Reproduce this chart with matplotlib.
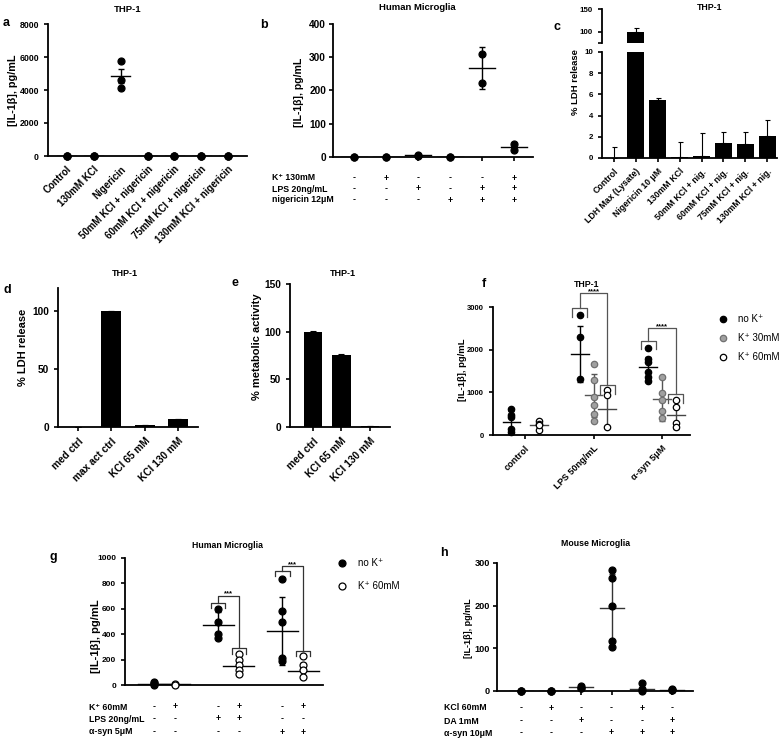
import numpy as np
import matplotlib
matplotlib.use('Agg')
import matplotlib.pyplot as plt
from matplotlib.transforms import blended_transform_factory

plt.rcParams['font.family'] = ['Liberation Sans', 'DejaVu Sans']
plt.rcParams['font.weight'] = 'bold'
plt.rcParams['axes.linewidth'] = 1.3
plt.rcParams['xtick.major.width'] = 1.2
plt.rcParams['ytick.major.width'] = 1.2
plt.rcParams['xtick.major.size'] = 3
plt.rcParams['ytick.major.size'] = 3

# ---- data ----
# a: THP-1 IL-1b
a_labels = ['Control', '130mM KCl', 'Nigericin', '50mM KCl + nigericin',
            '60mM KCl + nigericin', '75mM KCl + nigericin', '130mM KCl + nigericin']
a_points = [[0, 0, 0], [0, 0, 0], [5750, 4600, 4150], [0, 0, 0], [0, 0, 0], [0, 0, 0], [0, 0, 0]]
a_mean = [0, 0, 4840, 0, 0, 0, 0]
a_err = [0, 0, 420, 0, 0, 0, 0]

# b: human microglia IL-1b
b_points = [[0, 0], [0, 0], [6, 4], [0, 0], [311, 224], [40, 22]]
b_mean = [0, 0, 5, 0, 268, 29]
b_err = [0, 0, 1, 0, 62, 0]
b_rows = ['K\u207a 130mM', 'LPS 20ng/mL', 'nigericin 12\u03bcM']
b_signs = [['-', '+', '-', '-', '-', '+'],
           ['-', '-', '+', '-', '+', '+'],
           ['-', '-', '-', '+', '+', '+']]

# c: THP-1 LDH release
c_labels = ['Control', 'LDH Max (Lysate)', 'Nigericin 10 \u03bcM', '130mM KCl',
            '50mM KCl + nig.', '60mM KCl + nig.', '75mM KCl + nig.', '130mM KCl + nig.']
c_vals = [0, 100, 5.5, 0.1, 0.2, 1.45, 1.3, 2.1]
c_err = [1.0, 7, 0.2, 1.45, 2.2, 1.05, 1.15, 1.5]

# d: THP-1 LDH
d_labels = ['med ctrl', 'max act ctrl', 'KCl 65 mM', 'KCl 130 mM']
d_vals = [0, 100, 1.5, 6.5]
d_err = [0, 0.5, 0.3, 0.8]

# e: THP-1 metabolic activity
e_labels = ['med ctrl', 'KCl 65 mM', 'KCl 130 mM']
e_vals = [100, 75.5, 1]
e_err = [1.0, 1.5, 0.3]

# f: THP-1 IL-1b with K+
f_groups = ['control', 'LPS 50ng/mL', '\u03b1-syn 5\u03bcM']
f_series = ['no K\u207a', 'K\u207a 30mM', 'K\u207a 60mM']
f_points = {
    'no K\u207a': [[620, 470, 430, 150, 70], [2810, 2305, 1305], [2047, 1773, 1719, 1484, 1367, 1273]],
    'K\u207a 30mM': [[], [1664, 1289, 898, 703, 492, 328], [1352, 977, 820, 570, 391]],
    'K\u207a 60mM': [[330, 250, 120, 230], [1055, 937, 195], [820, 664, 289, 180]],
}
f_mean = {
    'no K\u207a': [300, 1898, 1586],
    'K\u207a 30mM': [None, 929, 836],
    'K\u207a 60mM': [235, 602, 469],
}
f_err = {
    'no K\u207a': [260, 650, 250],
    'K\u207a 30mM': [None, 500, 500],
    'K\u207a 60mM': [90, 440, 340],
}

# g: human microglia IL-1b with K+
g_points = [[20, 12, 5, 0], [8, 3], [596, 498, 399, 367], [244, 197, 157, 118, 87],
            [838, 584, 500, 210, 189], [228, 157, 118, 60]]
g_mean = [10, 6, 472, 152, 425, 113]
g_err = [5, 2, 105, 60, 265, 60]
g_filled = [True, False, True, False, True, False]
g_rows = ['K\u207a 60mM', 'LPS 20ng/mL', '\u03b1-syn 5\u03bcM']
g_signs = [['-', '+', '-', '+', '-', '+'],
           ['-', '-', '+', '+', '-', '-'],
           ['-', '-', '-', '-', '+', '+']]

# h: mouse microglia IL-1b
h_points = [[0, 0, 0], [0, 0, 0], [12, 8, 6], [284, 266, 200, 118, 104], [18, 4, 0], [5, 3, 2]]
h_mean = [0, 0, 9, 195, 5, 3]
h_err = [0, 0, 0, 80, 0, 0]
h_rows = ['KCl 60mM', 'DA 1mM', '\u03b1-syn 10\u03bcM']
h_signs = [['-', '+', '-', '-', '+', '-'],
           ['-', '-', '+', '-', '-', '+'],
           ['-', '-', '-', '+', '+', '+']]

# ---- layout ----
W, H = 784, 740
fig = plt.figure(figsize=(W / 100, H / 100), dpi=100)


def rect(l, r, t, b):
    return [l / W, 1 - b / H, (r - l) / W, (b - t) / H]


def style(ax, fs, xfs=None):
    ax.spines['top'].set_visible(False)
    ax.spines['right'].set_visible(False)
    ax.tick_params(axis='y', labelsize=fs)
    ax.tick_params(axis='x', labelsize=xfs or fs)
    for t in ax.get_yticklabels() + ax.get_xticklabels():
        t.set_fontweight('bold')


def ftext(x, y, s, fs, weight='bold', **kw):
    fig.text(x / W, 1 - y / H, s, fontsize=fs, fontweight=weight, **kw)


def scatter_group(ax, x, pts, mean, err, w, face='k', edge='k', ms=5, lc='k'):
    if mean is not None:
        ax.plot([x - w, x + w], [mean, mean], color=lc, lw=1.0, zorder=2)
        if err:
            ax.errorbar([x], [mean], yerr=[err], fmt='none', ecolor=lc, elinewidth=1.0,
                        capsize=2.5, capthick=1.0, zorder=2)
    if len(pts):
        ax.plot([x] * len(pts), pts, 'o', ms=ms, mfc=face, mec=edge, mew=0.9,
                zorder=3, clip_on=False)


def sign_rows(ax, xs, rows, signs, label_x, ys, fs):
    tr = blended_transform_factory(ax.transData, fig.transFigure)
    for row, sg, y in zip(rows, signs, ys):
        ftext(label_x, y, row, fs, va='center', ha='left')
        for x, s in zip(xs, sg):
            ax.text(x, 1 - y / H, s, transform=tr, fontsize=fs, fontweight='bold',
                    ha='center', va='center')


def bracket(ax, x1, x2, yl, yr, ytop, hw, drop, star, fs, color):
    kw = dict(color=color, lw=0.9, clip_on=False)
    ax.plot([x1 - hw, x1 - hw, x1 + hw, x1 + hw], [yl - drop, yl, yl, yl - drop], **kw)
    ax.plot([x2 - hw, x2 - hw, x2 + hw, x2 + hw], [yr - drop, yr, yr, yr - drop], **kw)
    ax.plot([x1, x1, x2, x2], [yl, ytop, ytop, yr], **kw)
    ax.text((x1 + x2) / 2, ytop, star, ha='center', va='baseline', fontsize=fs,
            fontweight='bold', clip_on=False)


def legend_dot(x, y, face, edge, ms):
    fig.lines.append(plt.Line2D([x / W], [1 - y / H], marker='o', ms=ms, mfc=face,
                                mec=edge, mew=0.9, transform=fig.transFigure))


# ---- a ----
ax = fig.add_axes(rect(48, 247, 24, 156))
xa = np.arange(len(a_labels))
for i in xa:
    scatter_group(ax, i, a_points[i], a_mean[i], a_err[i], 0.35)
ax.set_xlim(-0.7, 6.7)
ax.set_ylim(0, 8000)
ax.set_yticks([0, 2000, 4000, 6000, 8000])
ax.set_xticks(xa)
ax.set_xticklabels(a_labels, rotation=45, ha='right', rotation_mode='anchor')
ax.tick_params(axis='x', length=0, pad=6)
style(ax, 6.3, 7)
ftext(128, 10, 'THP-1', 6.8, ha='center', va='center')
ftext(13, 90, '[IL-1\u03b2], pg/mL', 7.8, rotation=90, ha='center', va='center')
ftext(3, 23, 'a', 9, va='center')

# ---- b ----
ax = fig.add_axes(rect(333, 533, 24, 157))
xb = np.arange(len(b_points))
for i in xb:
    scatter_group(ax, i, b_points[i], b_mean[i], b_err[i], 0.4)
ax.set_xlim(-0.66, 5.6)
ax.set_ylim(0, 400)
ax.set_yticks([0, 100, 200, 300, 400])
ax.set_xticks(xb)
ax.set_xticklabels([])
ax.tick_params(axis='y', pad=2)
style(ax, 7.3)
sign_rows(ax, xb, b_rows, b_signs, 272, [178, 189, 200], 6.3)
ftext(417, 8, 'Human Microglia', 6.8, ha='center', va='center')
ftext(299, 92, '[IL-1\u03b2], pg/mL', 7.6, rotation=90, ha='center', va='center')
ftext(260, 25, 'b', 9, va='center')

# ---- c (broken axis) ----
xc = np.arange(len(c_labels))
axu = fig.add_axes(rect(602, 777, 9, 43))
axl = fig.add_axes(rect(602, 777, 52, 158))
for axx in (axu, axl):
    axx.bar(xc, c_vals, width=0.78, color='k')
    axx.errorbar(xc, c_vals, yerr=[np.zeros(len(c_err)), c_err], fmt='none', ecolor='k',
                 elinewidth=0.8, capsize=1.8, capthick=0.8)
    axx.set_xlim(-0.55, 7.45)
axu.set_ylim(75, 150)
axu.set_yticks([75, 100, 150])
axu.set_yticklabels(['', '100', '150'])
axu.spines['bottom'].set_visible(False)
axu.set_xticks([])
style(axu, 5.7)
axl.set_ylim(0, 10)
axl.set_yticks([0, 2, 4, 6, 8, 10])
axl.set_xticks(xc)
axl.set_xticklabels(c_labels, rotation=45, ha='right', rotation_mode='anchor')
style(axl, 5.7, 6.3)
ftext(710, 8, 'THP-1', 6.3, ha='center', va='center')
ftext(575, 82, '% LDH release', 6.8, rotation=90, ha='center', va='center')
ftext(553, 27, 'c', 9, va='center')

# ---- d ----
ax = fig.add_axes(rect(58, 198, 288, 427))
xd = np.arange(len(d_labels))
ax.bar(xd, d_vals, width=0.6, color='k')
ax.errorbar(xd, d_vals, yerr=[np.zeros(len(d_err)), d_err], fmt='none', ecolor='k',
            elinewidth=0.8, capsize=2.5, capthick=0.8)
ax.set_xlim(-0.6, 3.6)
ax.set_ylim(0, 120)
ax.set_yticks([0, 50, 100])
ax.set_xticks(xd)
ax.set_xticklabels(d_labels, rotation=45, ha='right', rotation_mode='anchor')
style(ax, 7.3)
ftext(125, 274, 'THP-1', 6.5, ha='center', va='center')
ftext(23, 347, '% LDH release', 8, rotation=90, ha='center', va='center')
ftext(4, 290, 'd', 9, va='center')

# ---- e ----
ax = fig.add_axes(rect(290, 390, 284, 427))
xe = np.arange(len(e_labels))
ax.bar(xe, e_vals, width=0.65, color='k')
ax.errorbar(xe, e_vals, yerr=[np.zeros(len(e_err)), e_err], fmt='none', ecolor='k',
            elinewidth=0.8, capsize=2.5, capthick=0.8)
ax.set_xlim(-0.8, 2.7)
ax.set_ylim(0, 150)
ax.set_yticks([0, 50, 100, 150])
ax.set_xticks(xe)
ax.set_xticklabels(e_labels, rotation=45, ha='right', rotation_mode='anchor')
style(ax, 7.3)
ftext(343, 274, 'THP-1', 6.5, ha='center', va='center')
ftext(257, 347, '% metabolic activity', 8, rotation=90, ha='center', va='center')
ftext(232, 283, 'e', 9, va='center')

# ---- f ----
ax = fig.add_axes(rect(493, 690, 307, 435))
xf = np.arange(len(f_groups))
f_off = [-0.2, 0.0, 0.2]
f_face = ['k', '#a0a0a0', 'white']
f_edge = ['k', '#707070', 'k']
f_lc = ['k', '#555555', '#444444']
for s, name in enumerate(f_series):
    for gi in xf:
        scatter_group(ax, gi + f_off[s], f_points[name][gi], f_mean[name][gi],
                      f_err[name][gi], 0.13, face=f_face[s], edge=f_edge[s], ms=4.6, lc=f_lc[s])
ax.set_xlim(-0.47, 2.41)
ax.set_ylim(0, 3000)
ax.set_yticks([0, 1000, 2000, 3000])
ax.set_xticks(xf)
ax.set_xticklabels(f_groups, rotation=45, ha='right', rotation_mode='anchor')
style(ax, 5.5, 6.6)
bracket(ax, 1 - 0.2, 1 + 0.2, 2969, 1172, 3322, 0.11, 200, '****', 5.5, '#555555')
bracket(ax, 2 - 0.2, 2 + 0.2, 2211, 961, 2500, 0.11, 200, '****', 5.5, '#555555')
for s, name in enumerate(f_series):
    y = [319, 338, 357][s]
    legend_dot(723, y, f_face[s], f_edge[s], 4.6)
    ftext(738, y, name, 7, weight='normal', va='center')
ftext(587, 284, 'THP-1', 6.3, ha='center', va='center')
ftext(463, 370, '[IL-1\u03b2], pg/mL', 6.8, rotation=90, ha='center', va='center')
ftext(482, 284, 'f', 9, va='center')

# ---- g ----
ax = fig.add_axes(rect(125, 323, 558, 685))
xg = np.array([0, 1, 3.1, 4.1, 6.2, 7.2])
for i, x in enumerate(xg):
    face = 'k' if g_filled[i] else 'white'
    scatter_group(ax, x, g_points[i], g_mean[i], g_err[i], 0.75, face=face, ms=5)
ax.set_xlim(-1.4, 8.16)
ax.set_ylim(0, 1000)
ax.set_yticks([0, 200, 400, 600, 800, 1000])
ax.set_xticks([])
style(ax, 6)
bracket(ax, 3.1, 4.1, 648, 289, 703, 0.35, 44, '***', 5.5, '#333333')
bracket(ax, 6.2, 7.2, 900, 270, 939, 0.35, 44, '***', 5.5, '#333333')
sign_rows(ax, xg, g_rows, g_signs, 89, [707, 719, 732], 6.3)
for s, (name, face) in enumerate([('no K\u207a', 'k'), ('K\u207a 60mM', 'white')]):
    y = [563, 586][s]
    legend_dot(342, y, face, 'k', 5)
    ftext(358, y, name, 7, weight='normal', va='center')
ftext(227, 545, 'Human Microglia', 6.3, ha='center', va='center')
ftext(96, 636, '[IL-1\u03b2], pg/mL', 8, rotation=90, ha='center', va='center')
ftext(50, 557, 'g', 9, va='center')

# ---- h ----
ax = fig.add_axes(rect(497, 693, 563, 691))
xh = np.arange(len(h_points))
for i in xh:
    scatter_group(ax, i, h_points[i], h_mean[i], h_err[i], 0.4, ms=5, lc='#333333')
ax.set_xlim(-0.8, 5.7)
ax.set_ylim(0, 300)
ax.set_yticks([0, 100, 200, 300])
ax.set_xticks(xh)
ax.set_xticklabels([])
ax.tick_params(axis='y', pad=2)
style(ax, 6.6)
sign_rows(ax, xh, h_rows, h_signs, 444, [708, 721, 733], 6.3)
ftext(596, 544, 'Mouse Microglia', 6.3, ha='center', va='center')
ftext(468, 628, '[IL-1\u03b2], pg/mL', 6.5, rotation=90, ha='center', va='center')
ftext(440, 553, 'h', 9, va='center')

fig.savefig('out.png', dpi=100)
